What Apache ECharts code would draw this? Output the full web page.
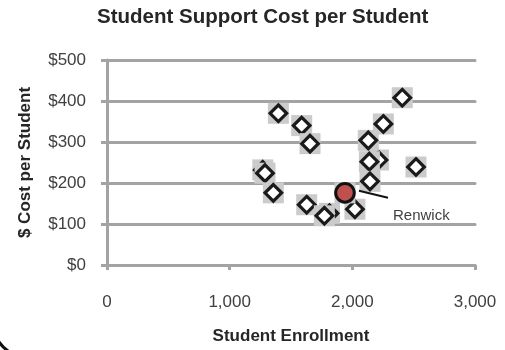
<!DOCTYPE html>
<html>
<head>
<meta charset="utf-8">
<script src="https://cdn.jsdelivr.net/npm/echarts@6/dist/echarts.min.js"></script>
<style>
  html, body { margin: 0; padding: 0; background: #fff; }
  #root { width: 505px; height: 350px; }
</style>
</head>
<body>
<div id="root"></div>
<script>
// peer schools, drawn in this order (later marks cover earlier ones)
const enrollment = [1270, 1397, 1587, 1655, 1288, 1356, 1628, 1814, 1772, 2021, 2213, 2130, 2139, 2144, 2253, 2407, 2519]
const costPerStudent = [232, 370, 340, 296, 224, 176, 147, 126, 120, 136, 256, 304, 252, 204, 344, 408, 239]
// highlighted school
const renwickEnrollment = [1940]
const renwickCost = [176]
const renwickName = 'Renwick'
// axis ticks
const xTicks = [0, 1000, 2000, 3000]
const yTicks = [0, 100, 200, 300, 400, 500]

const font = '"Liberation Sans", Arial, sans-serif'
const gridGray = '#a3a3a3'

const peerData = enrollment.map((x, i) => [x, costPerStudent[i]])
const renwickData = renwickEnrollment.map((x, i) => [x, renwickCost[i], renwickName])

const chart = echarts.init(document.getElementById('root'), null, { renderer: 'canvas' })

chart.setOption({
  animation: false,
  title: {
    text: 'Student Support Cost per Student',
    left: 97, top: 7, padding: 0,
    textStyle: { fontFamily: font, fontSize: 20.5, fontWeight: 'bold', color: '#262626' }
  },
  grid: { left: 107, right: 30, top: 60, bottom: 81 },
  xAxis: {
    type: 'value',
    min: xTicks[0], max: xTicks[xTicks.length - 1], interval: 1000,
    name: 'Student Enrollment', nameLocation: 'middle', nameGap: 63,
    nameTextStyle: { fontFamily: font, fontSize: 17, fontWeight: 'bold', color: '#262626' },
    axisLine: { lineStyle: { color: gridGray, width: 3, cap: 'round' } },
    axisTick: { show: true, length: 5, lineStyle: { color: gridGray, width: 3 } },
    splitLine: { show: false },
    axisLabel: {
      margin: 29, fontFamily: font, fontSize: 17, color: '#404040',
      formatter: v => v.toLocaleString('en-US')
    }
  },
  yAxis: {
    type: 'value',
    min: yTicks[0], max: yTicks[yTicks.length - 1], interval: 100,
    name: '$ Cost per Student', nameLocation: 'middle', nameGap: 73,
    nameTextStyle: { fontFamily: font, fontSize: 17, fontWeight: 'bold', color: '#262626' },
    axisLine: { show: true, lineStyle: { color: gridGray, width: 3, cap: 'round' } },
    axisTick: { show: true, length: 6, lineStyle: { color: gridGray, width: 3 } },
    splitLine: { show: true, lineStyle: { color: gridGray, width: 3, cap: 'round' } },
    axisLabel: {
      margin: 21, fontFamily: font, fontSize: 17, color: '#404040',
      formatter: v => '$' + v
    }
  },
  graphic: [{
    type: 'arc',
    shape: { cx: 30, cy: 320, r: 38, startAngle: Math.PI * 0.69, endAngle: Math.PI * 0.84 },
    style: { stroke: '#111', lineWidth: 3, fill: null }
  }],
  series: [
    {
      type: 'custom',
      data: peerData,
      renderItem: (params, api) => {
        const p = api.coord([api.value(0), api.value(1)])
        const r = 8.3
        return {
          type: 'group',
          children: [
            { type: 'rect', shape: { x: p[0] - 10.5, y: p[1] - 10.5, width: 21, height: 21 }, style: { fill: '#cbcbcb' } },
            {
              type: 'polygon',
              shape: { points: [[p[0], p[1] - r], [p[0] + r, p[1]], [p[0], p[1] + r], [p[0] - r, p[1]]] },
              style: { fill: '#fff', stroke: '#1a1a1a', lineWidth: 3.2, lineJoin: 'miter' }
            }
          ]
        }
      }
    },
    {
      type: 'custom',
      data: renwickData,
      renderItem: (params, api) => {
        const p = api.coord([api.value(0), api.value(1)])
        return {
          type: 'group',
          children: [
            { type: 'rect', shape: { x: p[0] - 10.5, y: p[1] - 10.5, width: 21, height: 21 }, style: { fill: '#cbcbcb' } },
            { type: 'line', shape: { x1: p[0] + 14, y1: p[1] - 2, x2: p[0] + 43, y2: p[1] + 5 }, style: { stroke: '#111', lineWidth: 2 } },
            { type: 'circle', shape: { cx: p[0], cy: p[1], r: 9.3 }, style: { fill: '#c0504d', stroke: '#111', lineWidth: 3 } },
            {
              type: 'text', x: p[0] + 48, y: p[1] + 23.5,
              style: { text: api.value(2), fontFamily: font, fontSize: 15, fill: '#404040', align: 'left', verticalAlign: 'middle' }
            }
          ]
        }
      },
      encode: { x: 0, y: 1 },
      dimensions: ['x', 'y', { name: 'label', type: 'ordinal' }]
    }
  ]
})
</script>
</body>
</html>
